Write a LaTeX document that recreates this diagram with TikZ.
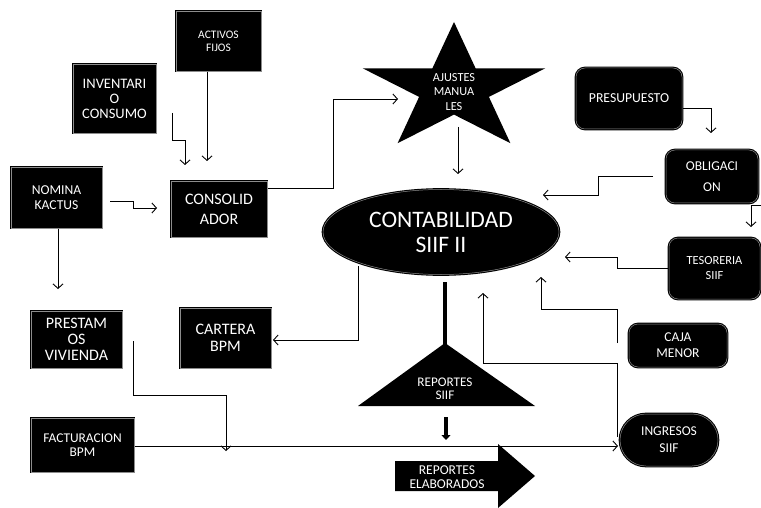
\documentclass[tikz,border=0pt]{standalone}
\usepackage{fontspec}
\setmainfont{Carlito}
\usetikzlibrary{arrows.meta,shapes.geometric}
\newcommand\myfs[2]{\fontsize{#1}{#2}\selectfont}
\begin{document}
\begin{tikzpicture}[x=1pt,y=-1pt,
  box/.style={draw=black, fill=black, text=white, align=center, inner sep=0pt, line width=1.1pt, double=black!45, double distance=0.5pt},
  rbox/.style={box, rounded corners=9pt},
  conn/.style={draw=black, line width=0.9pt, -{Straight Barb[length=4.5pt,width=10pt]}},
  heavy/.style={draw=black, line width=3.5pt},
  lbl/.style={text=white, align=center, inner sep=0pt}]
\useasboundingbox[fill=white] (0,0) rectangle (761,508);

% boxes
\node[box, minimum width=85pt, minimum height=60pt, font=\myfs{11.5}{13}] (activos) at (218.5,41) {ACTIVOS\\FIJOS};
\node[box, minimum width=83pt, minimum height=69pt, font=\myfs{14.5}{15}] (inv) at (114.5,98.5) {INVENTARI\\O\\CONSUMO};
\node[box, minimum width=91pt, minimum height=61pt, font=\myfs{13.6}{15}] (nomina) at (56.5,197.5) {NOMINA\\KACTUS};
\node[box, minimum width=96pt, minimum height=56pt, font=\myfs{16}{20}] (consol) at (219,209) {CONSOLID\\ADOR};
\node[box, minimum width=91pt, minimum height=57pt, font=\myfs{16}{16}] (prest) at (76.5,339.5) {PRESTAM\\OS\\VIVIENDA};
\node[box, minimum width=91pt, minimum height=60pt, font=\myfs{16}{17}] (cartera) at (225.5,338) {CARTERA\\BPM};
\node[box, minimum width=103pt, minimum height=54pt, font=\myfs{13.4}{14}] (fact) at (82.5,445) {FACTURACION\\BPM};
\node[rbox, minimum width=106pt, minimum height=61pt, font=\myfs{13.7}{14}] (presup) at (629,98.5) {PRESUPUESTO};
\node[rbox, minimum width=92pt, minimum height=53pt, font=\myfs{13.5}{21}] (oblig) at (712,176.5) {OBLIGACI\\ON};
\node[rbox, minimum width=91pt, minimum height=61pt, font=\myfs{12.4}{15}] (tes) at (714.5,268.5) {TESORERIA\\SIIF};
\node[rbox, minimum width=98pt, minimum height=43pt, font=\myfs{13.5}{16}] (caja) at (678,345.5) {CAJA\\MENOR};
\node[box, rounded corners=26pt, minimum width=98pt, minimum height=52pt, font=\myfs{13.5}{17}] (ingresos) at (669,440) {INGRESOS\\SIIF};
\node[ellipse, draw=black, fill=black, text=white, align=center, inner sep=0pt, line width=1.1pt, double=black!45, double distance=0.5pt, minimum width=236pt, minimum height=85pt, font=\myfs{23.6}{25}] (contab) at (441,232) {CONTABILIDAD\\SIIF II};

% star
\fill[black] (454,22) -- (475.6,68.3) -- (545.3,68.3) -- (488.9,96.9) -- (510.4,143.2) -- (454,114.6)
  -- (397.6,143.2) -- (419.1,96.9) -- (362.7,68.3) -- (432.4,68.3) -- cycle;
\node[lbl, font=\myfs{12.3}{14.5}] (ajustes) at (454,92) {AJUSTES\\MANUA\\LES};

% triangle
\fill[black] (358,406) -- (445,343) -- (535,406) -- cycle;
\node[lbl, font=\myfs{13.2}{12.5}] (repsiif) at (445,389) {REPORTES\\SIIF};

% block arrow
\fill[black] (395,461) -- (498,461) -- (498,444) -- (535,476) -- (498,508) -- (498,491) -- (395,491) -- cycle;
\node[lbl, font=\myfs{13.5}{14}] (repelab) at (447,477) {REPORTES\\ELABORADOS};

% connectors
\draw[conn] ([xshift=-11.5pt]activos.south) -- (207,161);
\draw[conn] (172,113) |- (185,140) -- (185,165);
\draw[conn] (110,201) -- (133,201) -- (133,208) -- (157,208);
\draw[conn] ([xshift=1.5pt]nomina.south) -- (58,289);
\draw[conn] (268,188) -| (333,99) -- (398,99);
\draw[conn] (458,127) -- (458,174);
\draw[conn] (683,108) -| (711,133);
\draw[conn] (653,176) -| (598,195) -- (543,195);
\draw[conn] (761,205) -| (751,227);
\draw[conn] (668,268) -| (617,257) -- (565,257);
\draw[conn] (617,343) |- (541,309) -- (541,277);
\draw[conn] (617,437) |- (483,363) -- (483,293);
\draw[conn] (358,266) |- (273,340);
\draw[conn] (133,341) |- (226,395) -- (226,451);
\draw[conn] (135,446) -- (618,446);
\draw[heavy] (445,282) -- (445,346);
\draw[heavy, -{Triangle[length=5pt,width=9pt]}] (446,417) -- (446,440);
\end{tikzpicture}
\end{document}
